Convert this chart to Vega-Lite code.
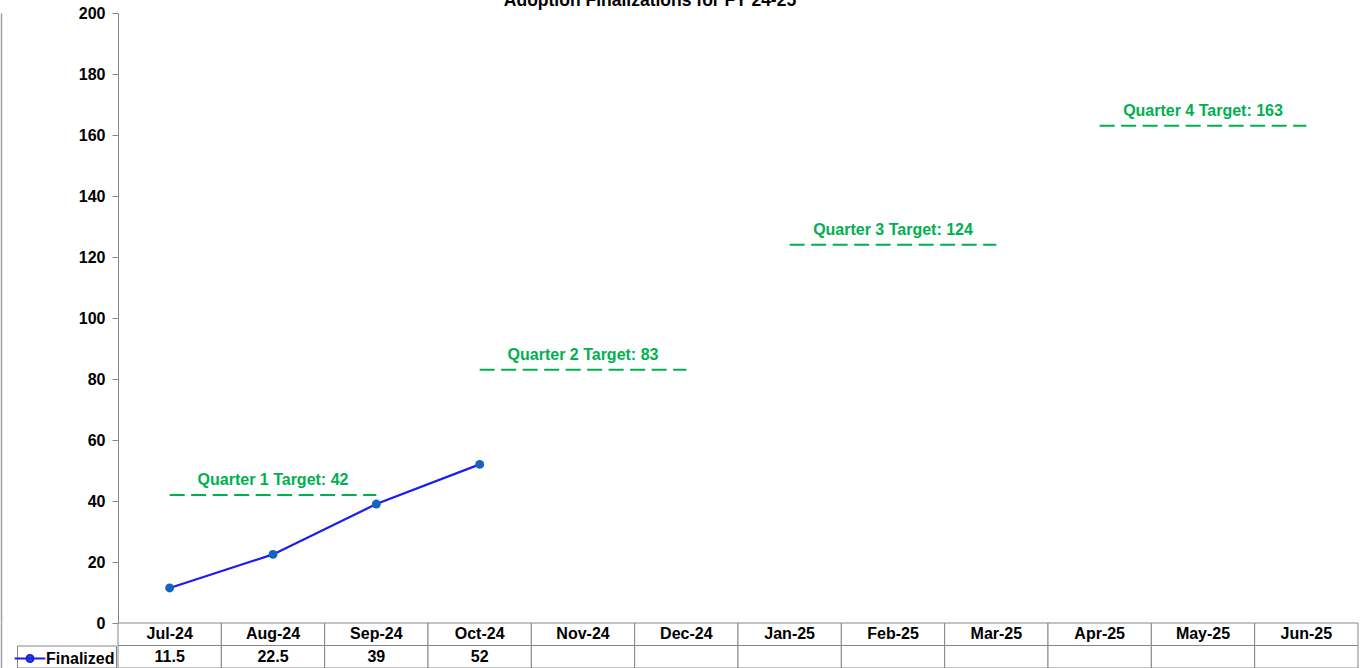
{
  "$schema": "https://vega.github.io/schema/vega-lite/v6.json",
  "autosize": "none",
  "width": 1240,
  "height": 655,
  "padding": {"left": 118, "top": 13, "right": 3, "bottom": 0},
  "background": "white",
  "config": {"view": {"stroke": null}, "font": "Liberation Sans"},
  "title": {
    "text": "Adoption Finalizations for FY 24-25",
    "fontSize": 17.5,
    "fontWeight": "bold",
    "font": "Liberation Sans",
    "color": "black",
    "anchor": "middle",
    "frame": "group",
    "dx": -88,
    "dy": 4,
    "offset": 0
  },
  "datasets": {
    "monthly": [
      {"month": "Jul-24", "finalized": 11.5},
      {"month": "Aug-24", "finalized": 22.5},
      {"month": "Sep-24", "finalized": 39},
      {"month": "Oct-24", "finalized": 52},
      {"month": "Nov-24", "finalized": null},
      {"month": "Dec-24", "finalized": null},
      {"month": "Jan-25", "finalized": null},
      {"month": "Feb-25", "finalized": null},
      {"month": "Mar-25", "finalized": null},
      {"month": "Apr-25", "finalized": null},
      {"month": "May-25", "finalized": null},
      {"month": "Jun-25", "finalized": null}
    ],
    "targets": [
      {"label": "Quarter 1 Target: 42", "start": "Jul-24", "mid": "Aug-24", "end": "Sep-24", "target": 42},
      {"label": "Quarter 2 Target: 83", "start": "Oct-24", "mid": "Nov-24", "end": "Dec-24", "target": 83},
      {"label": "Quarter 3 Target: 124", "start": "Jan-25", "mid": "Feb-25", "end": "Mar-25", "target": 124},
      {"label": "Quarter 4 Target: 163", "start": "Apr-25", "mid": "May-25", "end": "Jun-25", "target": 163}
    ]
  },
  "layer": [
    {
      "layer": [
        {
          "data": {"name": "targets"},
          "mark": {"type": "rule", "color": "#00B050", "strokeWidth": 2, "strokeDash": [15, 6.5]},
          "encoding": {
            "x": {"field": "start", "type": "ordinal", "scale": {"type": "point", "padding": 0.5, "domain": ["Jul-24","Aug-24","Sep-24","Oct-24","Nov-24","Dec-24","Jan-25","Feb-25","Mar-25","Apr-25","May-25","Jun-25"]}, "axis": null},
            "x2": {"field": "end"},
            "y": {
              "field": "target",
              "type": "quantitative",
              "scale": {"domain": [0, 200], "range": [610, 0], "nice": false},
              "axis": {
                "orient": "left",
                "values": [0, 20, 40, 60, 80, 100, 120, 140, 160, 180, 200],
                "title": null,
                "grid": false,
                "labelFontSize": 16,
                "labelFontWeight": "bold",
                "labelColor": "black",
                "labelFont": "Liberation Sans",
                "tickSize": 6,
                "labelPadding": 7,
                "domainColor": "#868686",
                "tickColor": "#868686"
              }
            }
          }
        },
        {
          "data": {"name": "targets"},
          "mark": {"type": "rule", "opacity": 0},
          "encoding": {
            "y": {
              "field": "target",
              "type": "quantitative",
              "axis": {"orient": "left", "title": null, "labels": false, "ticks": false, "grid": false, "offset": 117, "domainColor": "#a0a0a0", "domainWidth": 1.5}
            }
          }
        },
        {
          "data": {"name": "targets"},
          "mark": {"type": "text", "color": "#00B050", "fontSize": 16, "fontWeight": "bold", "font": "Liberation Sans", "baseline": "alphabetic", "dy": -10},
          "encoding": {
            "x": {"field": "mid", "type": "ordinal", "axis": null},
            "y": {"field": "target", "type": "quantitative", "axis": null},
            "text": {"field": "label"}
          }
        },
        {
          "data": {"name": "monthly"},
          "mark": {"type": "line", "strokeWidth": 2.2},
          "encoding": {
            "x": {"field": "month", "type": "ordinal", "axis": null},
            "y": {"field": "finalized", "type": "quantitative", "axis": null},
            "color": {
              "datum": "Finalized",
              "type": "nominal",
              "scale": {"range": ["#1c1cf0"]},
              "legend": {
                "orient": "none",
                "legendX": -101,
                "legendY": 632.5,
                "title": null,
                "symbolType": "M-1.4,0L1.4,0M-0.32,0A0.32,0.32,0,1,1,0.32,0A0.32,0.32,0,1,1,-0.32,0Z",
                "symbolSize": 484,
                "symbolStrokeWidth": 2,
                "labelFontSize": 16,
                "labelFontWeight": "bold",
                "labelFont": "Liberation Sans",
                "labelColor": "black",
                "labelOffset": 4,
                "strokeColor": "#868686",
                "padding": 1,
                "encode": {"symbols": {"update": {"fill": {"value": "#1565c0"}, "stroke": {"value": "#1c1cf0"}, "opacity": {"value": 1}}}}
              }
            }
          }
        },
        {
          "data": {"name": "monthly"},
          "mark": {"type": "point", "filled": true, "size": 80, "opacity": 1, "color": "#1565c0"},
          "encoding": {
            "x": {"field": "month", "type": "ordinal", "axis": null},
            "y": {"field": "finalized", "type": "quantitative", "axis": null}
          }
        }
      ],
      "resolve": {"axis": {"y": "independent"}}
    },
    {
      "data": {"name": "monthly"},
      "encoding": {
        "x": {"field": "month", "type": "ordinal", "scale": {"type": "band", "padding": 0, "domain": ["Jul-24","Aug-24","Sep-24","Oct-24","Nov-24","Dec-24","Jan-25","Feb-25","Mar-25","Apr-25","May-25","Jun-25"]}, "axis": null}
      },
      "layer": [
        {
          "mark": {"type": "rect", "fill": "white", "stroke": "#868686", "strokeWidth": 1},
          "encoding": {
            "y": {"datum": "header", "type": "nominal", "scale": {"type": "band", "domain": ["header", "Finalized"], "range": [610, 655], "padding": 0}, "axis": {"orient": "left", "title": null, "labels": false, "ticks": false, "grid": false, "offset": 117, "domainColor": "#a0a0a0", "domainWidth": 1.5}}
          }
        },
        {
          "mark": {"type": "rect", "fill": "white", "stroke": "#868686", "strokeWidth": 1},
          "encoding": {
            "y": {"datum": "Finalized", "type": "nominal"}
          }
        },
        {
          "mark": {"type": "text", "fontSize": 16, "fontWeight": "bold", "font": "Liberation Sans", "color": "black"},
          "encoding": {
            "y": {"datum": "header", "type": "nominal"},
            "text": {"field": "month"}
          }
        },
        {
          "transform": [{"filter": "isValid(datum.finalized)"}],
          "mark": {"type": "text", "fontSize": 16, "fontWeight": "bold", "font": "Liberation Sans", "color": "black"},
          "encoding": {
            "y": {"datum": "Finalized", "type": "nominal"},
            "text": {"field": "finalized", "type": "nominal"}
          }
        }
      ]
    }
  ],
  "resolve": {"scale": {"y": "independent", "x": "independent"}}
}
